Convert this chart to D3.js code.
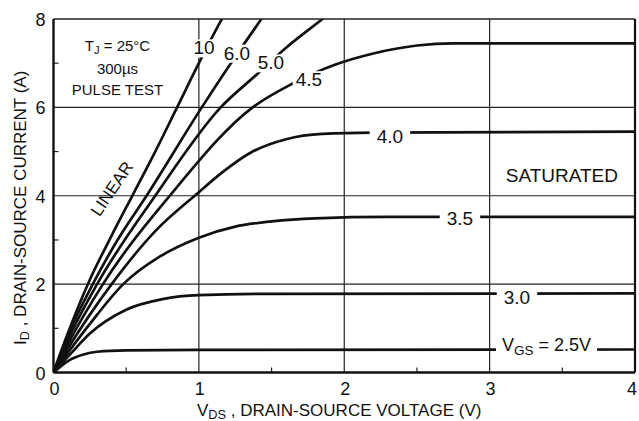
<!DOCTYPE html>
<html>
<head>
<meta charset="utf-8">
<script src="https://cdn.jsdelivr.net/npm/d3@7"></script>
<style>
  body { margin: 0; background: #fff; }
  text { font-family: "Liberation Sans", Arial, sans-serif; fill: #111; }
</style>
</head>
<body>
<div id="chart"></div>
<script>
// I_D vs V_DS output characteristics, one curve per V_GS
const xTicks = [0, 1, 2, 3, 4];
const yTicks = [0, 2, 4, 6, 8];
const xMinor = [0.5, 1.5, 2.5, 3.5];
const yMinor = [1, 3, 5, 7];

const vgs10 = [[0,0],[0.1,0.9],[0.25,2.1],[0.4,3.1],[0.55,4.05],[0.7,5.0],[0.85,6.0],[1.0,7.0],[1.15,7.95],[1.3,8.8]];
const vgs60 = [[0,0],[0.1,0.85],[0.27,2.0],[0.45,3.05],[0.64,4.0],[1.02,6.0],[1.22,7.0],[1.43,8.0],[1.6,8.8]];
const vgs50 = [[0,0],[0.1,0.75],[0.30,2.0],[0.70,4.0],[1.15,6.0],[1.40,6.75],[1.6,7.35],[1.85,8.0],[2.0,8.4]];
const vgs45 = [[0,0],[0.1,0.65],[0.34,2.0],[0.80,4.0],[1.37,6.0],[1.64,6.53],[1.94,6.97],[2.2,7.22],[2.5,7.4],[2.75,7.45],[4,7.45]];
const vgs40 = [[0,0],[0.1,0.55],[0.40,2.0],[0.70,3.2],[1.0,4.08],[1.15,4.5],[1.37,5.0],[1.6,5.28],[1.85,5.40],[2.2,5.43],[4,5.45]];
const vgs35 = [[0,0],[0.25,1.1],[0.48,2.0],[0.73,2.62],[1.0,3.05],[1.25,3.3],[1.5,3.42],[1.8,3.49],[2.3,3.52],[4,3.52]];
const vgs30 = [[0,0],[0.125,0.45],[0.25,0.88],[0.5,1.42],[0.75,1.66],[1.0,1.75],[1.5,1.78],[4,1.79]];
const vgs25 = [[0,0],[0.05,0.14],[0.11,0.28],[0.2,0.4],[0.3,0.47],[0.5,0.5],[1,0.51],[4,0.52]];

const curves = [vgs10, vgs60, vgs50, vgs45, vgs40, vgs35, vgs30, vgs25];

const width = 639, height = 421;
const margin = {top: 19, right: 4, bottom: 48.5, left: 53.5};

const svg = d3.select("#chart").append("svg")
    .attr("width", width)
    .attr("height", height);

const x = d3.scaleLinear().domain([0, 4]).range([margin.left, width - margin.right]);
const y = d3.scaleLinear().domain([0, 8]).range([height - margin.bottom, margin.top]);

svg.append("defs").append("clipPath").attr("id", "plot")
  .append("rect")
    .attr("x", x(0)).attr("y", y(8))
    .attr("width", x(4) - x(0)).attr("height", y(0) - y(8));

// grid
svg.append("g").selectAll("line").data(xTicks.slice(1, -1)).join("line")
    .attr("x1", d => x(d)).attr("x2", d => x(d))
    .attr("y1", y(0)).attr("y2", y(8))
    .attr("stroke", "#222").attr("stroke-width", 1.2);
svg.append("g").selectAll("line").data(yTicks.slice(1, -1)).join("line")
    .attr("x1", x(0)).attr("x2", x(4))
    .attr("y1", d => y(d)).attr("y2", d => y(d))
    .attr("stroke", "#222").attr("stroke-width", 1.2);

// minor ticks
svg.append("g").selectAll("line").data(xMinor).join("line")
    .attr("x1", d => x(d)).attr("x2", d => x(d))
    .attr("y1", y(0)).attr("y2", y(0) - 5)
    .attr("stroke", "#222").attr("stroke-width", 1.2);
svg.append("g").selectAll("line").data(yMinor).join("line")
    .attr("x1", x(0)).attr("x2", x(0) + 5)
    .attr("y1", d => y(d)).attr("y2", d => y(d))
    .attr("stroke", "#222").attr("stroke-width", 1.2);

// curves
const line = d3.line()
    .x(d => x(d[0]))
    .y(d => y(d[1]))
    .curve(d3.curveMonotoneX);

svg.append("g").attr("clip-path", "url(#plot)")
  .selectAll("path").data(curves).join("path")
    .attr("d", line)
    .attr("fill", "none")
    .attr("stroke", "#111")
    .attr("stroke-width", 2.7)
    .attr("stroke-linecap", "round");

// frame
svg.append("line").attr("x1", x(0)).attr("x2", x(4)).attr("y1", y(8)).attr("y2", y(8))
    .attr("stroke", "#222").attr("stroke-width", 1.6);
svg.append("line").attr("x1", x(4)).attr("x2", x(4)).attr("y1", y(8)).attr("y2", y(0))
    .attr("stroke", "#111").attr("stroke-width", 2.2);
svg.append("line").attr("x1", x(0)).attr("x2", x(4)).attr("y1", y(0)).attr("y2", y(0))
    .attr("stroke", "#111").attr("stroke-width", 2.4);
svg.append("line").attr("x1", x(0)).attr("x2", x(0)).attr("y1", y(8)).attr("y2", y(0))
    .attr("stroke", "#111").attr("stroke-width", 2.4);

// tick labels
svg.append("g").selectAll("text").data(xTicks).join("text")
    .attr("x", d => d === 4 ? x(d) - 3 : x(d) + 1).attr("y", y(0) + 22)
    .attr("text-anchor", "middle")
    .style("font-size", "18px")
    .text(d => d);
svg.append("g").selectAll("text").data(yTicks).join("text")
    .attr("x", x(0) - 8).attr("y", d => y(d) + 7)
    .attr("text-anchor", "end")
    .style("font-size", "18px")
    .text(d => d);

// labels with white knock-out behind them
const labelLayer = svg.append("g");
function label(vx, iy, parts, opts = {}) {
  const g = labelLayer.append("g");
  const t = g.append("text")
      .attr("x", x(vx)).attr("y", y(iy))
      .attr("text-anchor", opts.anchor || "middle")
      .style("font-size", (opts.size || 19) + "px");
  parts.forEach(p => {
    const s = t.append("tspan").text(p.t);
    if (p.sub) s.attr("baseline-shift", "-25%").style("font-size", "75%");
  });
  if (opts.knock !== false) {
    const b = t.node().getBBox();
    const pad = opts.pad || 4;
    g.insert("rect", "text")
        .attr("x", b.x - pad).attr("y", b.y + 2)
        .attr("width", b.width + 2 * pad).attr("height", b.height - 3)
        .attr("fill", "#fff");
  }
  return t;
}

label(1.035, 7.2, [{t: "10"}], {pad: 3});
label(1.262, 7.08, [{t: "6.0"}], {pad: 3});
label(1.496, 6.86, [{t: "5.0"}], {pad: 3});
label(1.757, 6.48, [{t: "4.5"}], {pad: 3});
label(2.314, 5.19, [{t: "4.0"}], {pad: 7});
label(2.796, 3.34, [{t: "3.5"}], {pad: 7});
label(3.188, 1.56, [{t: "3.0"}], {pad: 7});
label(3.085, 0.48, [{t: "V"}, {t: "GS", sub: true}, {t: " = 2.5V"}], {anchor: "start", size: 18, pad: 6});
label(3.497, 4.3, [{t: "SATURATED"}], {size: 19, knock: false});
label(0.44, 7.28, [{t: "T"}, {t: "J", sub: true}, {t: " = 25°C"}], {size: 15, knock: false});
label(0.44, 6.76, [{t: "300µs"}], {size: 15, knock: false});
label(0.44, 6.28, [{t: "PULSE TEST"}], {size: 15, knock: false});

svg.append("text")
    .attr("transform", `translate(${x(0.40)},${y(4.16)}) rotate(-56)`)
    .attr("text-anchor", "middle")
    .attr("dy", "0.35em")
    .style("font-size", "17px")
    .text("LINEAR");

// axis titles
const xt = svg.append("text")
    .attr("x", 197).attr("y", 416)
    .style("font-size", "17px");
xt.append("tspan").text("V");
xt.append("tspan").text("DS").attr("baseline-shift", "-25%").style("font-size", "75%");
xt.append("tspan").text(" , DRAIN-SOURCE VOLTAGE (V)");

const yt = svg.append("text")
    .attr("transform", "translate(26,345) rotate(-90)")
    .style("font-size", "17px");
yt.append("tspan").text("I");
yt.append("tspan").text("D").attr("baseline-shift", "-25%").style("font-size", "75%");
yt.append("tspan").text(" , DRAIN-SOURCE CURRENT (A)");
</script>
</body>
</html>
